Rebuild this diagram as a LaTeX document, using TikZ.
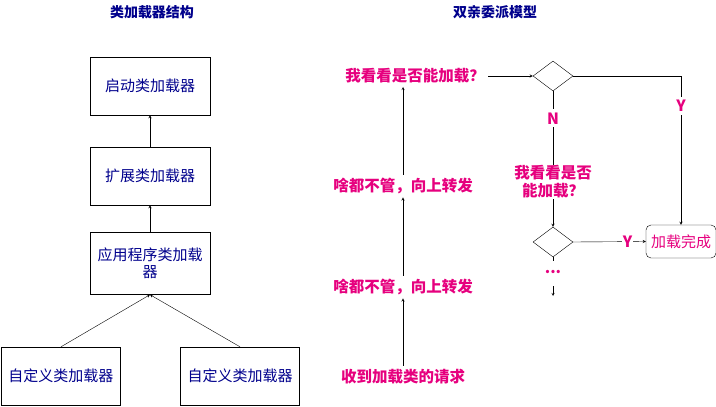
\documentclass[tikz,border=0pt]{standalone}
\usepackage{fontspec}
\setmainfont{Noto Sans CJK SC}
\usetikzlibrary{shapes.geometric}
\definecolor{navy}{RGB}{0,0,140}
\definecolor{pink}{RGB}{230,0,126}

\begin{document}
\begin{tikzpicture}[x=1pt,y=-1pt,
    box/.style={draw,minimum width=120pt,minimum height=58pt,text=navy,align=center,text width=112pt,font=\fontsize{15}{17}\selectfont},
    lbl/.style={text=pink,font=\bfseries\fontsize{15.5}{18}\selectfont,align=center},
    dia/.style={draw,diamond,aspect=1.4,minimum width=40pt,minimum height=30pt,inner sep=0pt},
    ttl/.style={text=navy,font=\bfseries\fontsize{14}{16}\selectfont}]
    \useasboundingbox (0,0) rectangle (716,407);
    \node[ttl] (t1) at (152,12) {类加载器结构};
    \node[ttl] (t2) at (495,12) {双亲委派模型};
    % left structure
    \node[box] (boot) at (150,86) {启动类加载器};
    \node[box] (ext) at (150,176) {扩展类加载器};
    \node[box,minimum height=62pt] (app) at (150,263.5) {应用程序类加载\\器};
    \node[box,minimum width=118pt] (cus1) at (61,376) {自定义类加载器};
    \node[box,minimum width=118pt] (cus2) at (240,376) {自定义类加载器};
    \draw[-stealth] (ext) -- (boot);
    \draw[-stealth] (app) -- (ext);
    \draw[-stealth] (cus1.north) -- (app.south);
    \draw[-stealth] (cus2.north) -- (app.south);
    % right delegation
    \node[lbl] (req) at (403,377) {收到加载类的请求};
    \node[lbl] (up1) at (403,287) {啥都不管，向上转发};
    \node[lbl] (up2) at (403,186) {啥都不管，向上转发};
    \node[lbl] (ask) at (415,76) {我看看是否能加载？};
    \draw[-stealth] (req) -- (up1);
    \draw[-stealth] (up1) -- (up2);
    \draw[-stealth] (up2.north -| up1) -- (ask.south -| up1);
    \node[dia] (d1) at (553,76) {};
    \node[dia] (d2) at (553,242) {};
    \node[draw,rounded corners=5pt,text=pink,font=\fontsize{15}{17}\selectfont,minimum width=70pt,minimum height=33pt,inner sep=1pt] (done) at (681,241.5) {加载完成};
    \draw[-stealth] (ask) -- (d1);
    \draw[-stealth] (d1.east) -| node[lbl,fill=white,pos=0.6] {Y} (done.north);
    \draw[-stealth] (d1.south) -- node[lbl,fill=white,pos=0.2] {N} (d2.north);
    \node[lbl,fill=white,inner sep=1pt] (ask2) at (553,182) {我看看是否\\能加载？};
    \draw[-stealth] (d2.east) -- node[lbl,fill=white,inner sep=1pt,pos=0.75] {Y} (done.west);
    \coordinate (d2b) at (553,261);
    \draw (d2.south) -- (d2b);
    \node[lbl,inner sep=0pt] (more) at (553,272) {...};
    \coordinate (endp) at (553,296);
    \draw[-stealth] (553,286) -- (endp);
\end{tikzpicture}
\end{document}
